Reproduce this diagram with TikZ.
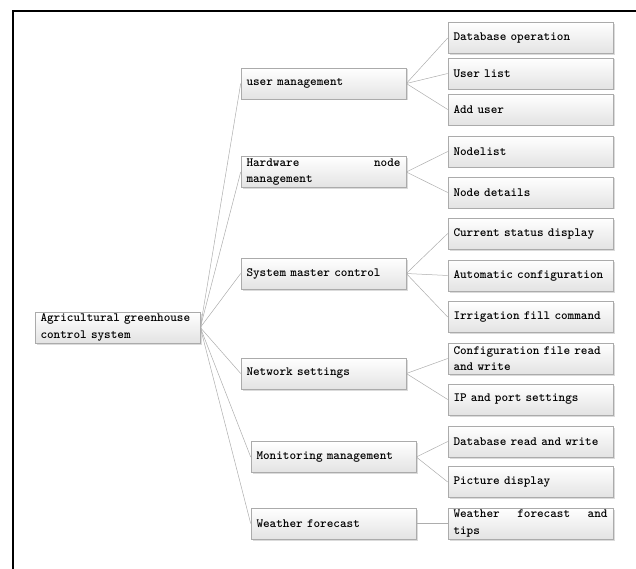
\documentclass[tikz,border=0pt]{standalone}
\usetikzlibrary{shadows}
\begin{document}
\begin{tikzpicture}[x=1pt,y=-1pt,
  box/.style={draw=black!33, line width=0.6pt, top color=white, bottom color=black!11,
    minimum width=165pt, minimum height=31pt, text width=154pt, inner xsep=5.5pt, inner ysep=0pt,
    align=left, font=\fontsize{12.6}{16.5}\selectfont\ttfamily\fontseries{b}\selectfont,
    drop shadow={shadow xshift=1.5pt, shadow yshift=-1.5pt, fill=black!14, opacity=1}},
  link/.style={draw=black!32, line width=0.5pt},
  frame/.style={draw=black, line width=2pt}]
\useasboundingbox (0,0) rectangle (636,569);
\draw[frame] (12.5,569) -- (12.5,11.5) -- (636,11.5);
% root
\node[box] (root) at (117.5,327.5) {Agricultural greenhouse\\control system};
% level 2
\node[box] (user) at (323.5,83.5) {user management};
\node[box] (hw) at (323.5,172) {\hbox to 154pt{Hardware\hfill node}\\management};
\node[box] (sys) at (323.5,273.5) {System master control};
\node[box] (net) at (323.5,373.5) {Network settings};
\node[box] (mon) at (333.5,457) {Monitoring management};
\node[box] (wf) at (333.5,523.5) {Weather forecast};
% level 3
\node[box] (dbop) at (530.5,38) {Database operation};
\node[box] (ulist) at (530.5,73.5) {User list};
\node[box] (adduser) at (530.5,109.5) {Add user};
\node[box] (nlist) at (530.5,151.5) {Nodelist};
\node[box] (ndet) at (530.5,192.5) {Node details};
\node[box] (cur) at (530.5,233.5) {Current status display};
\node[box] (auto) at (530.5,275.5) {Automatic configuration};
\node[box] (irr) at (530.5,317) {Irrigation fill command};
\node[box] (conf) at (530.5,358.5) {Configuration file read\\and write};
\node[box] (ip) at (530.5,399.5) {IP and port settings};
\node[box] (dbrw) at (530.5,441.5) {Database read and write};
\node[box] (pic) at (530.5,482) {Picture display};
\node[box] (wft) at (530.5,523.5) {\hbox to 154pt{Weather\hfill forecast\hfill and}\\tips};
% connectors
\foreach \c in {user,hw,sys,net,mon,wf} \draw[link] (root.east) -- (\c.west);
\foreach \c in {dbop,ulist,adduser} \draw[link] (user.east) -- (\c.west);
\foreach \c in {nlist,ndet} \draw[link] (hw.east) -- (\c.west);
\foreach \c in {cur,auto,irr} \draw[link] (sys.east) -- (\c.west);
\foreach \c in {conf,ip} \draw[link] (net.east) -- (\c.west);
\foreach \c in {dbrw,pic} \draw[link] (mon.east) -- (\c.west);
\draw[link] (wf.east) -- (wft.west);
\end{tikzpicture}
\end{document}
